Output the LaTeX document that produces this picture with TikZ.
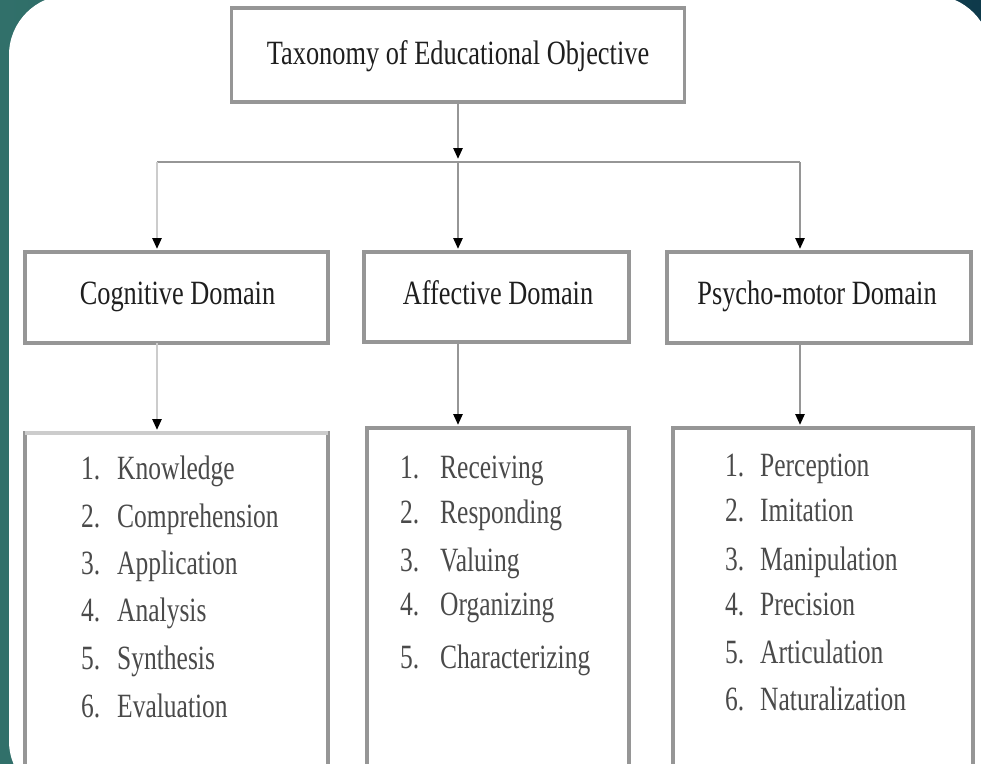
\documentclass[tikz,border=0pt]{standalone}
\usepackage{fontspec}
\setmainfont{Liberation Serif}
\newfontfamily\hdfont[FakeStretch=0.775]{Liberation Serif}
\newfontfamily\lifont[FakeStretch=0.75]{Liberation Serif}
\usetikzlibrary{arrows.meta}
\definecolor{bgL}{HTML}{31706A}
\definecolor{bgR}{HTML}{0E3A4B}
\definecolor{bordergray}{HTML}{969696}
\definecolor{lightgray2}{HTML}{CCCCCC}
\definecolor{hdtext}{HTML}{1E1E1E}
\definecolor{litext}{HTML}{4A4A4A}
\begin{document}
\begin{tikzpicture}[x=1pt,y=-1pt,
  box/.style={draw=bordergray, line width=3.5pt, fill=white, inner sep=0pt, outer sep=0pt},
  hd/.style={text=hdtext, font=\hdfont\fontsize{34}{34}\selectfont, inner sep=0pt},
  li/.style={text=litext, font=\lifont\fontsize{34}{34}\selectfont, inner sep=0pt},
  conn/.style={draw=bordergray, line width=2.5pt},
  connlight/.style={draw=lightgray2, line width=2.5pt},
  arr/.style={-{Triangle[width=9pt,length=11pt,color=black]}, shorten >=3pt}
]
\useasboundingbox (0,0) rectangle (981,763);
\shade[left color=bgL, right color=bgR] (0,0) rectangle (981,763);
\fill[white, rounded corners=60pt] (9,-5) rectangle (991,801);

% boxes
\node[box, minimum width=453pt, minimum height=94pt] (top) at (458,55) {};
\node[box, minimum width=303pt, minimum height=91pt] (cog) at (176.5,297.5) {};
\node[box, minimum width=265pt, minimum height=90pt] (aff) at (496.5,297) {};
\node[box, minimum width=304pt, minimum height=91pt] (psy) at (819,297.5) {};
\node[box, minimum width=303pt, minimum height=340pt] (cogL) at (176.5,603) {};
\draw[lightgray2, line width=3.5pt] (cogL.north west) -- (cogL.north east);
\node[box, minimum width=262pt, minimum height=345pt] (affL) at (498,600.5) {};
\node[box, minimum width=300pt, minimum height=345pt] (psyL) at (823,600.5) {};

% labels
\node[hd, anchor=base] (ttl) at (458,64) {Taxonomy of Educational Objective};
\node[hd, anchor=base] (cogt) at (177.5,304) {Cognitive Domain};
\node[hd, anchor=base] (afft) at (498,304) {Affective Domain};
\node[hd, anchor=base] (psyt) at (817,304) {Psycho-motor Domain};

% connectors
\coordinate (bus) at (458,162);
\coordinate (busL) at (157,162);
\coordinate (busR) at (800,162);
\draw[conn] (busL) -- (busR);
\draw[conn, arr] (top.south) -- (bus);
\draw[connlight, arr] (busL) -- (busL |- cog.north);
\draw[conn, arr] (bus) -- (bus |- aff.north);
\draw[conn, arr] (busR) -- (busR |- psy.north);
\draw[connlight, arr] (busL |- cog.south) -- (busL |- cogL.north);
\draw[conn, arr] (bus |- aff.south) -- (bus |- affL.north);
\draw[conn, arr] (busR |- psy.south) -- (busR |- psyL.north);

% lists
\foreach \n/\t/\y in {1/Knowledge/479, 2/Comprehension/527, 3/Application/574, 4/Analysis/621, 5/Synthesis/669, 6/Evaluation/717}{
  \node[li, anchor=base west] (cn\n) at (81,\y) {\n.};
  \node[li, anchor=base west] (ct\n) at (117,\y) {\t};
}
\foreach \n/\t/\y in {1/Receiving/478, 2/Responding/523, 3/Valuing/571, 4/Organizing/615, 5/Characterizing/668}{
  \node[li, anchor=base west] (an\n) at (400,\y) {\n.};
  \node[li, anchor=base west] (at\n) at (440,\y) {\t};
}
\foreach \n/\t/\y in {1/Perception/476, 2/Imitation/521, 3/Manipulation/570, 4/Precision/615, 5/Articulation/663, 6/Naturalization/710}{
  \node[li, anchor=base west] (pn\n) at (725,\y) {\n.};
  \node[li, anchor=base west] (pt\n) at (760,\y) {\t};
}
\end{tikzpicture}
\end{document}
